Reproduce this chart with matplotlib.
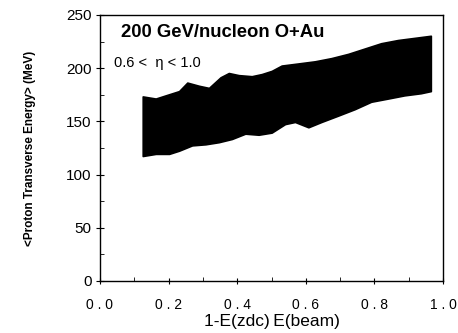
import matplotlib
matplotlib.use("Agg")
import matplotlib.pyplot as plt
import numpy as np

# Upper edge of the band
upper_x = [0.126, 0.164, 0.193, 0.232, 0.256, 0.29, 0.319, 0.353, 0.377, 0.406,
           0.444, 0.473, 0.502, 0.531, 0.58, 0.628, 0.676, 0.725, 0.773, 0.821,
           0.87, 0.918, 0.966]
upper_y = [173, 171, 174, 178, 186, 183, 181, 191, 195, 193,
           192, 194, 197, 202, 204, 206, 209, 213, 218, 223,
           226, 228, 230]
# Lower edge of the band
lower_x = [0.126, 0.164, 0.203, 0.232, 0.27, 0.309, 0.348, 0.386, 0.425, 0.464,
           0.502, 0.541, 0.57, 0.609, 0.647, 0.696, 0.744, 0.792, 0.841, 0.889,
           0.937, 0.966]
lower_y = [117, 119, 119, 122, 127, 128, 130, 133, 138, 137,
           139, 147, 149, 144, 149, 155, 161, 168, 171, 174,
           176, 178]

xticks = [0.0, 0.2, 0.4, 0.6, 0.8, 1.0]
xticklabels = ["0 . 0", "0 . 2", "0 . 4", "0 . 6", "0 . 8", "1 . 0"]
yticks = [0, 50, 100, 150, 200, 250]

plt.rcParams['font.family'] = ['Liberation Sans', 'DejaVu Sans']

fig = plt.figure(figsize=(4.58, 3.33), dpi=100)
ax = fig.add_axes([100/458, 1 - 281/333, 343/458, 266/333])

poly_x = list(upper_x) + list(lower_x[::-1])
poly_y = list(upper_y) + list(lower_y[::-1])
ax.fill(poly_x, poly_y, color='black', linewidth=1.2, edgecolor='black',
        joinstyle='round')

ax.set_xlim(0, 1.0)
ax.set_ylim(0, 250)
ax.set_xticks(xticks)
ax.set_xticklabels(xticklabels, fontsize=10)
ax.set_yticks(yticks)
ax.set_yticklabels([str(v) for v in yticks], fontsize=11)
ax.set_xticks(np.arange(0.1, 1.0, 0.2), minor=True)
ax.set_yticks(np.arange(25, 250, 50), minor=True)
ax.tick_params(axis='x', which='major', direction='inout', length=5, width=0.8, pad=10)
ax.tick_params(axis='x', which='minor', direction='in', length=3, width=0.6)
ax.tick_params(axis='y', which='major', direction='inout', length=6, width=0.8, pad=3)
ax.tick_params(axis='y', which='minor', direction='in', length=3, width=0.6)
for s in ax.spines.values():
    s.set_linewidth(1.0)

ax.set_xlabel("1-E(zdc)\u2009E(beam)", fontsize=12.5, labelpad=1)
ax.set_ylabel("<Proton Transverse Energy> (MeV)", fontsize=8.5, fontweight='bold', labelpad=22)

ax.text(0.06, 0.965, "200 GeV/nucleon O+Au", transform=ax.transAxes,
        fontsize=13.3, fontweight='bold', va='top', ha='left')
ax.text(0.04, 0.82, "0.6 <  \u03b7 < 1.0", transform=ax.transAxes,
        fontsize=10.5, va='center', ha='left')

fig.savefig("out.png", dpi=100)
